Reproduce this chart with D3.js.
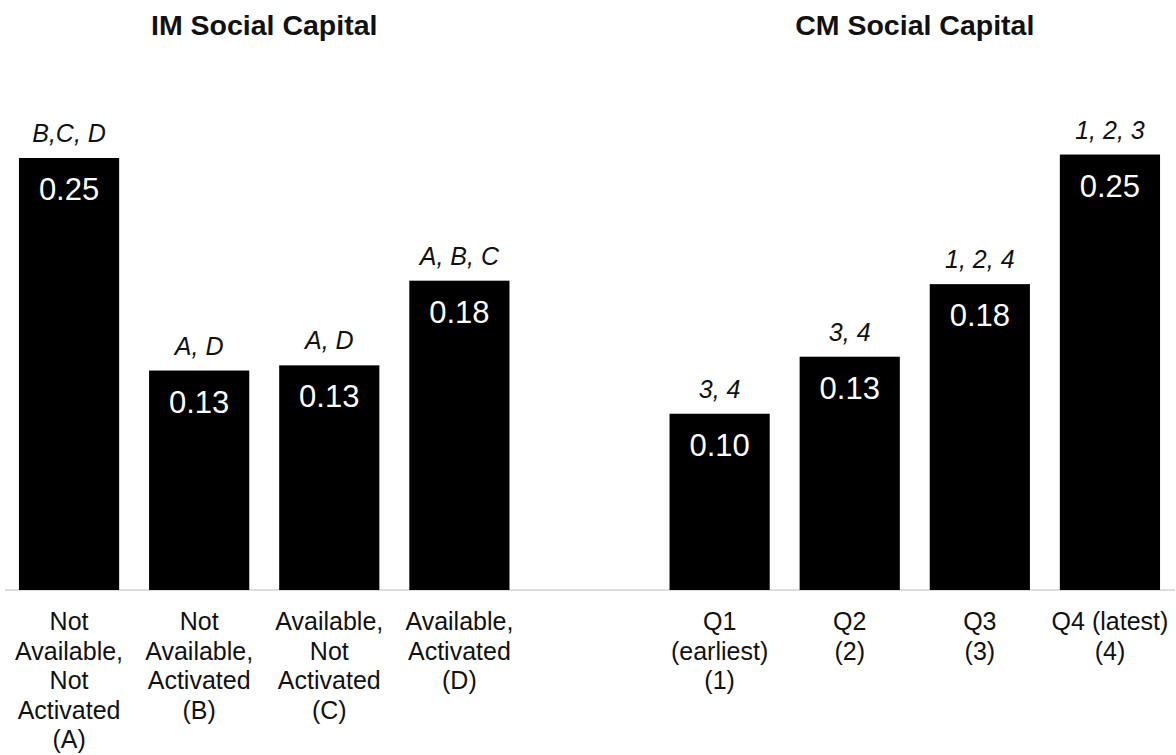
<!DOCTYPE html>
<html>
<head>
<meta charset="utf-8">
<script src="https://cdn.jsdelivr.net/npm/d3@7"></script>
<style>
  html, body { margin: 0; padding: 0; background: #fff; }
  svg { display: block; font-family: "Liberation Sans", Arial, Helvetica, sans-serif; }
</style>
</head>
<body>
<svg id="chart" width="1176" height="755"></svg>
<script>
// ---- data ----
const panelTitles = ["IM Social Capital", "CM Social Capital"];

const imKeys = ["A", "B", "C", "D"];
const imCategoryLines = [
  ["Not", "Available,", "Not", "Activated", "(A)"],
  ["Not", "Available,", "Activated", "(B)"],
  ["Available,", "Not", "Activated", "(C)"],
  ["Available,", "Activated", "(D)"]
];
const imValues = [0.250, 0.127, 0.130, 0.179];
const imValueLabels = ["0.25", "0.13", "0.13", "0.18"];
const imSigLabels = ["B,C, D", "A, D", "A, D", "A, B, C"];

const cmKeys = ["1", "2", "3", "4"];
const cmCategoryLines = [
  ["Q1", "(earliest)", "(1)"],
  ["Q2", "(2)"],
  ["Q3", "(3)"],
  ["Q4 (latest)", "(4)"]
];
const cmValues = [0.102, 0.135, 0.177, 0.252];
const cmValueLabels = ["0.10", "0.13", "0.18", "0.25"];
const cmSigLabels = ["3, 4", "3, 4", "1, 2, 4", "1, 2, 3"];

const gapKey = "gap";

// ---- build ----
const rows = [];
imKeys.forEach((k, i) => rows.push({ key: k, lines: imCategoryLines[i], value: imValues[i], label: imValueLabels[i], sig: imSigLabels[i] }));
cmKeys.forEach((k, i) => rows.push({ key: k, lines: cmCategoryLines[i], value: cmValues[i], label: cmValueLabels[i], sig: cmSigLabels[i] }));
const linesByKey = new Map(rows.map(r => [r.key, r.lines]));

const svg = d3.select("#chart");
const baseY = 590;

const x = d3.scaleBand()
  .domain([...imKeys, gapKey, ...cmKeys])
  .range([4, 1175])
  .paddingInner(0.23)
  .paddingOuter(0.115);

const y = d3.scaleLinear()
  .domain([0, 0.25])
  .range([baseY, 158]);

// axis
const axis = svg.append("g")
  .attr("transform", `translate(0,${baseY})`)
  .call(d3.axisBottom(x).tickSize(0).tickFormat(""));
axis.select(".domain").attr("stroke", "#d2d2d2").attr("stroke-width", 1.5)
  .attr("d", `M${x.range()[0] + 1},0H${x.range()[1]}`);

axis.selectAll(".tick").each(function(d) {
  const lines = linesByKey.get(d) || [];
  const t = d3.select(this).select("text")
    .attr("y", 0).attr("dy", null)
    .attr("fill", "#111")
    .attr("font-size", 25)
    .attr("text-anchor", "middle");
  t.selectAll("tspan").data(lines).join("tspan")
    .attr("x", 0)
    .attr("y", (l, i) => 40 + i * 29.6)
    .text(l => l);
});

// bars
svg.append("g").selectAll("rect").data(rows).join("rect")
  .attr("x", d => x(d.key))
  .attr("width", x.bandwidth())
  .attr("y", d => y(d.value))
  .attr("height", d => baseY - y(d.value))
  .attr("fill", "#000");

// value labels inside bars
svg.append("g").selectAll("text").data(rows).join("text")
  .attr("x", d => x(d.key) + x.bandwidth() / 2)
  .attr("y", d => y(d.value) + 42)
  .attr("text-anchor", "middle")
  .attr("font-size", 31)
  .attr("fill", "#fff")
  .text(d => d.label);

// significance labels above bars
svg.append("g").selectAll("text").data(rows).join("text")
  .attr("x", d => x(d.key) + x.bandwidth() / 2)
  .attr("y", d => y(d.value) - 16)
  .attr("text-anchor", "middle")
  .attr("font-size", 25)
  .attr("font-style", "italic")
  .attr("fill", "#111")
  .text(d => d.sig);

// panel titles
const groups = [imKeys, cmKeys];
svg.append("g").selectAll("text").data(panelTitles).join("text")
  .attr("x", (t, i) => {
    const g = groups[i];
    return (x(g[0]) + x(g[g.length - 1]) + x.bandwidth()) / 2;
  })
  .attr("y", 35)
  .attr("text-anchor", "middle")
  .attr("font-size", 28.5)
  .attr("font-weight", "bold")
  .attr("fill", "#111")
  .text(t => t);
</script>
</body>
</html>
